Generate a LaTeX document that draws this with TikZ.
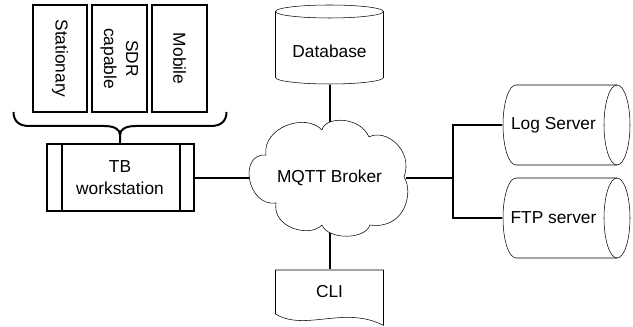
\documentclass[tikz,border=0pt]{standalone}
\usepackage{fontspec}
\setmainfont{Liberation Sans}
\usetikzlibrary{backgrounds}
\begin{document}
\begin{tikzpicture}[x=0.75pt,y=-0.75pt,line width=1.5pt,
  every node/.style={font=\fontsize{13}{16.5}\selectfont,inner sep=0pt,align=center},
  vbox/.style={draw,rotate=-90,minimum width=80.25pt,minimum height=40.9pt},
  txtbox/.style={minimum width=#1},
  conn/.style={line width=1.5pt}]
\useasboundingbox (0,0) rectangle (633,327);

% nodes
\node[vbox] (st) at (60,58.5) {Stationary};
\node[vbox] (sdr) at (119.5,58.5) {SDR\\capable};
\node[vbox] (mob) at (179.5,58.5) {Mobile};
\node[draw,minimum width=110.25pt,minimum height=50.25pt] (tb) at (120,178) {TB\\workstation};
\node[minimum width=112.5pt,minimum height=80.25pt] (cl) at (329.5,178) {MQTT Broker};
\node[minimum width=81pt,minimum height=49.5pt] (db) at (329.5,51) {Database};
\node[minimum width=81pt,minimum height=33pt] (cli) at (329.5,292) {CLI};
\node[minimum width=75.75pt,minimum height=60pt] (ls) at (553.5,125) {Log Server};
\node[minimum width=75.75pt,minimum height=60pt] (ftp) at (553.5,218) {FTP server};
\coordinate (j) at (453,178);

% process bars of TB workstation
\draw ([xshift=12pt]tb.north west) -- ([xshift=12pt]tb.south west);
\draw ([xshift=-11.25pt]tb.north east) -- ([xshift=-11.25pt]tb.south east);

% curly brace
\draw[line join=round] (13.5,112) .. controls (13.5,121) and (19,126) .. (29,126) -- (104,126)
  .. controls (114,126) and (120,129) .. (120,135) -- (tb.north)
  (120,135) .. controls (120,129) and (126,126) .. (136,126) -- (211,126)
  .. controls (221,126) and (226.5,121) .. (226.5,112);

\begin{pgfonlayer}{background}
% connectors
\draw[conn] (tb.east) -- (cl.west);
\draw[conn] (db.south) -- (cl.north);
\draw[conn] (cl.south) -- (cli.north);
\draw[conn] (cl.east) -- (j) |- (ls.west);
\draw[conn] (j) |- (ftp.west);

% cloud
\draw[fill=white,line join=round] (276,203) .. controls (247,207) and (238,153) .. (266,155)
  .. controls (262,128) and (305,112) .. (322,130)
  .. controls (325,116) and (360,116) .. (369,137)
  .. controls (385,128) and (414,150) .. (404,177)
  .. controls (414,192) and (405,230) .. (370,225)
  .. controls (365,240) and (328,240) .. (322,225)
  .. controls (310,238) and (272,228) .. (276,203) -- cycle;

% database cylinder
\draw (275.5,11.5) -- (275.5,77.5) .. controls (275.5,81.09) and (299.68,84) .. (329.5,84)
  .. controls (359.32,84) and (383.5,81.09) .. (383.5,77.5) -- (383.5,11.5);
\draw (275.5,11.5) .. controls (275.5,7.91) and (299.68,5) .. (329.5,5)
  .. controls (359.32,5) and (383.5,7.91) .. (383.5,11.5)
  .. controls (383.5,15.09) and (359.32,18) .. (329.5,18)
  .. controls (299.68,18) and (275.5,15.09) .. (275.5,11.5) -- cycle;

% CLI document
\draw[line join=round] (275.5,270) -- (383.5,270) -- (383.5,325.5)
  .. controls (345,305) and (305,332) .. (275.5,314) -- cycle;

% horizontal cylinders
\foreach \dy in {0,93}{
\begin{scope}[shift={(0,\dy)}]
\draw (516,85) -- (617,85) .. controls (624.18,85) and (630,102.91) .. (630,125)
  .. controls (630,147.09) and (624.18,165) .. (617,165) -- (516,165)
  .. controls (508.82,165) and (503,147.09) .. (503,125)
  .. controls (503,102.91) and (508.82,85) .. (516,85) -- cycle;
\draw (617,85) .. controls (609.82,85) and (604,102.91) .. (604,125)
  .. controls (604,147.09) and (609.82,165) .. (617,165);
\end{scope}}
\end{pgfonlayer}
\end{tikzpicture}
\end{document}
